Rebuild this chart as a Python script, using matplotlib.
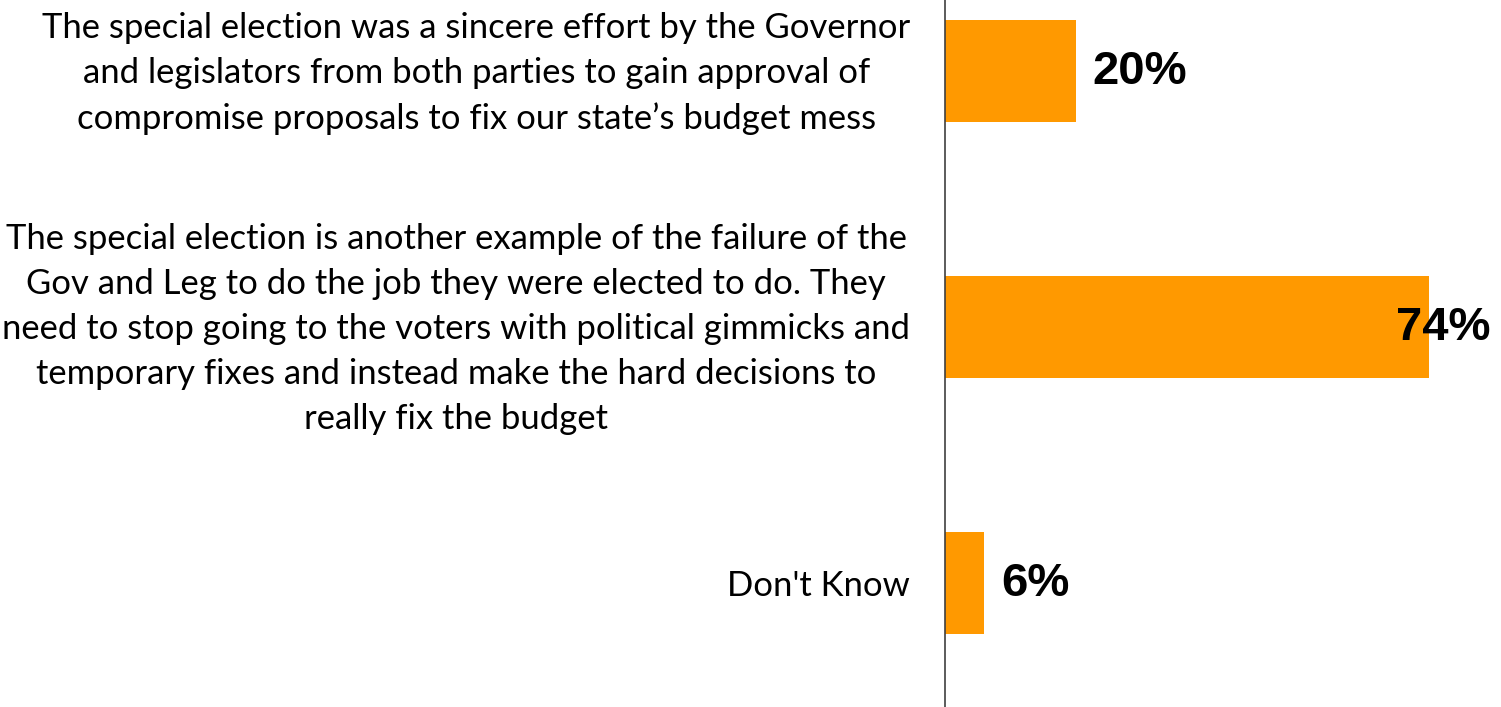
import matplotlib.pyplot as plt

# Réponses et pourcentages
categories = [
    "The special election was a sincere effort by the Governor\n"
    "and legislators from both parties to gain approval of\n"
    "compromise proposals to fix our state\u2019s budget mess",
    "The special election is another example of the failure of the\n"
    "Gov and Leg to do the job they were elected to do. They\n"
    "need to stop going to the voters with political gimmicks and\n"
    "temporary fixes and instead make the hard decisions to\n"
    "really fix the budget",
    "Don't Know",
]
values = [20, 74, 6]
value_labels = ["20%", "74%", "6%"]

fig = plt.figure(figsize=(15.01, 7.07), dpi=100)
ax = fig.add_axes([945 / 1501, 0, 1 - 945 / 1501, 1])

positions = range(len(values))
ax.barh(positions, values, height=0.4, color="#FF9900")

ax.set_xlim(0, 85)
ax.set_ylim(2.484, -0.277)
ax.set_yticks([])
ax.set_xticks([])

for s in ["top", "right", "bottom"]:
    ax.spines[s].set_visible(False)
ax.spines["left"].set_color("#404040")
ax.spines["left"].set_linewidth(1.2)

# Libellés des réponses, centrés sur chaque barre
for i, cat in enumerate(categories):
    ax.annotate(cat, xy=(0, i), xycoords=("axes fraction", "data"),
                xytext=(-25, -1.8), textcoords="offset points",
                ha="right", va="center", multialignment="center",
                linespacing=1.5, fontsize=24.9,
                family=["Lato", "DejaVu Sans"], annotation_clip=False)

# Étiquettes de valeurs : la plus grande déborde sur la barre
for i, (v, txt) in enumerate(zip(values, value_labels)):
    dx = -24 if v == max(values) else 12
    ax.annotate(txt, xy=(v, i), xytext=(dx, -1), textcoords="offset points",
                ha="left", va="center", fontsize=34, fontweight="bold",
                family="Liberation Sans")

fig.savefig("out.png", dpi=100)
